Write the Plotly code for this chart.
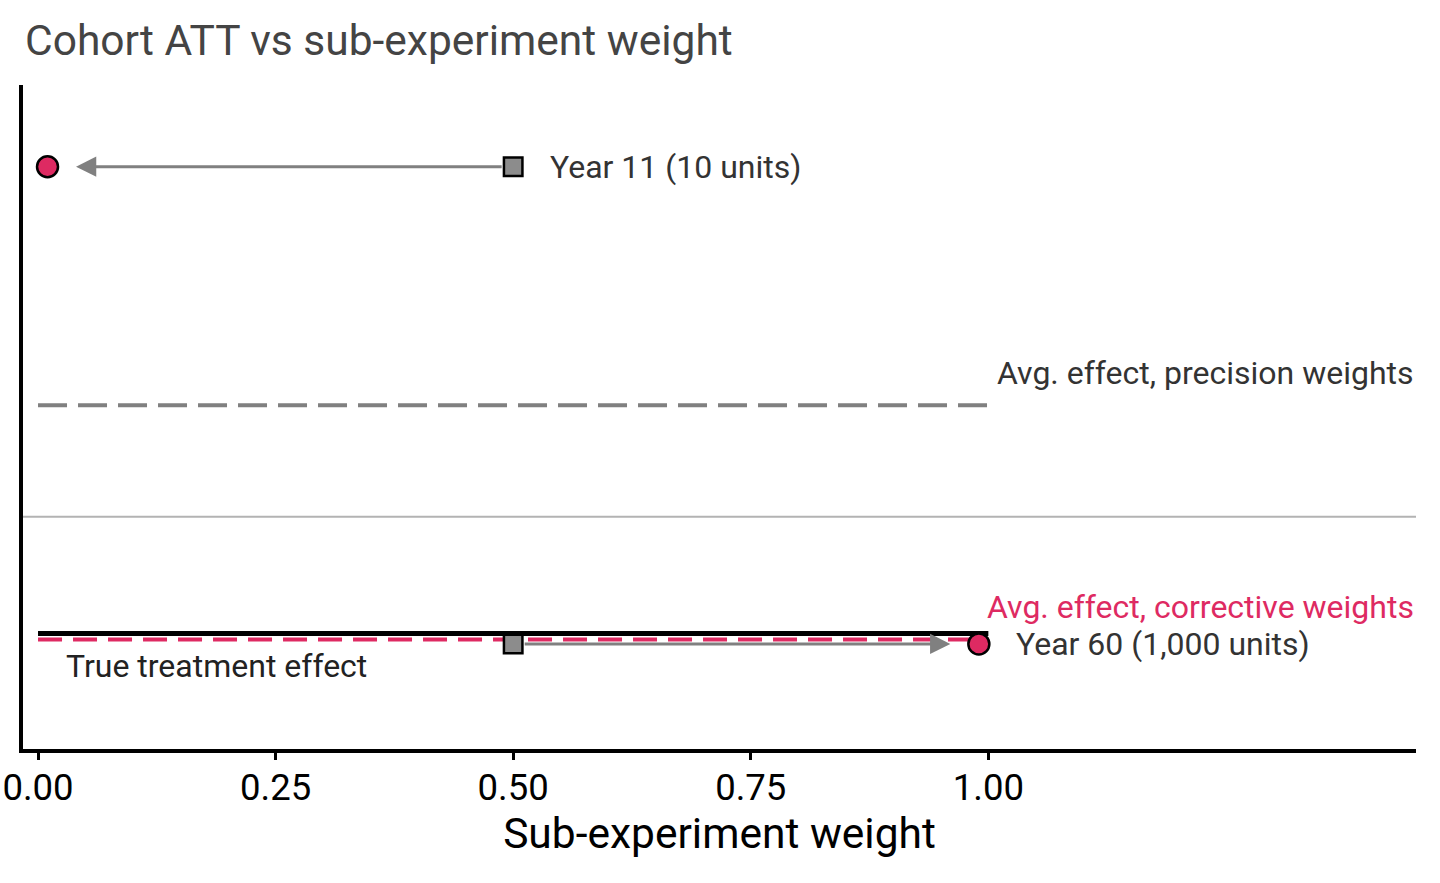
import plotly.graph_objects as go

# ---- data ----
cohorts = ["Year 11 (10 units)", "Year 60 (1,000 units)"]
precision_weights = [0.5, 0.5]
corrective_weights = [0.01, 0.99]
cohort_att = [3.0, -1.09]
arrow_tips = [0.04, 0.96]
label_x = [0.537, 1.027]
true_effect = -1.0
precision_avg = 0.955
corrective_avg = -1.052
x_ticks = [0.0, 0.25, 0.5, 0.75, 1.0]
x_tick_labels = ["0.00", "0.25", "0.50", "0.75", "1.00"]
x_range = [-0.0158, 1.45]
y_range = [-1.99, 3.70]

PINK = "#DE2A62"
GRAY = "#808080"
FONT = "Roboto"

fig = go.Figure()

# zero reference line
fig.add_trace(go.Scatter(x=x_range, y=[0, 0], mode="lines",
                         line=dict(color="#b3b3b3", width=2), hoverinfo="skip"))
# precision-weighted average
fig.add_trace(go.Scatter(x=[0, 1], y=[precision_avg] * 2, mode="lines",
                         line=dict(color=GRAY, width=4, dash="29px,11px"), hoverinfo="skip"))
# true effect
fig.add_trace(go.Scatter(x=[0, 1], y=[true_effect] * 2, mode="lines",
                         line=dict(color="black", width=5), hoverinfo="skip"))
# corrective-weighted average
fig.add_trace(go.Scatter(x=[0, 1], y=[corrective_avg] * 2, mode="lines",
                         line=dict(color=PINK, width=4, dash="24px,11px"), hoverinfo="skip"))

# squares: precision weights
fig.add_trace(go.Scatter(x=precision_weights, y=cohort_att, mode="markers",
                         marker=dict(symbol="square", size=18.5, color="#8c8c8c",
                                     line=dict(color="black", width=2.5))))
# circles: corrective weights
fig.add_trace(go.Scatter(x=corrective_weights, y=cohort_att, mode="markers",
                         marker=dict(symbol="circle", size=21, color=PINK,
                                     line=dict(color="black", width=2.5))))

annotations = []
for px, tip, yv, lx, name in zip(precision_weights, arrow_tips, cohort_att, label_x, cohorts):
    annotations.append(dict(x=tip, y=yv, ax=px, ay=yv, xref="x", yref="y", axref="x", ayref="y",
                            showarrow=True, arrowhead=2, arrowsize=1.35, arrowwidth=3,
                            arrowcolor=GRAY, startstandoff=10, text=""))
    annotations.append(dict(x=lx, y=yv, xref="x", yref="y", text=name, showarrow=False,
                            xanchor="left", yanchor="middle",
                            font=dict(family=FONT, size=32, color="#333333")))

annotations += [
    dict(x=x_range[1], y=1.234, xref="x", yref="y", text="Avg. effect, precision weights",
         showarrow=False, xanchor="right", yanchor="middle",
         font=dict(family=FONT, size=32, color="#333333")),
    dict(x=x_range[1], y=-0.771, xref="x", yref="y", text="Avg. effect, corrective weights",
         showarrow=False, xanchor="right", yanchor="middle",
         font=dict(family=FONT, size=32, color=PINK)),
    dict(x=0.027, y=-1.277, xref="x", yref="y", text="True treatment effect",
         showarrow=False, xanchor="left", yanchor="middle",
         font=dict(family=FONT, size=32, color="#222222")),
]

fig.update_layout(
    width=1440, height=883,
    margin=dict(l=23, r=24, t=85, b=134),
    paper_bgcolor="white", plot_bgcolor="white",
    showlegend=False,
    font=dict(family=FONT),
    title=dict(text="Cohort ATT vs sub-experiment weight", x=25 / 1440, xanchor="left",
               xref="container", y=1 - 40 / 883, yanchor="middle", yref="container",
               font=dict(family=FONT, size=42.5, color="#444444")),
    annotations=annotations,
    xaxis=dict(range=x_range, tickvals=x_ticks, ticktext=x_tick_labels, automargin=False,
               showgrid=False, zeroline=False, showline=True, linecolor="black", linewidth=3.5,
               ticks="outside", ticklen=7, tickwidth=2.5, tickcolor="black",
               ticklabelstandoff=-4,
               tickfont=dict(family=FONT, size=36.5, color="black"),
               title=dict(text="Sub-experiment weight", standoff=3,
                          font=dict(family=FONT, size=42.5, color="black"))),
    yaxis=dict(range=y_range, showticklabels=False, showgrid=False, zeroline=False,
               automargin=False,
               showline=True, linecolor="black", linewidth=3.5, ticks=""),
)

fig.write_html("out.html")
